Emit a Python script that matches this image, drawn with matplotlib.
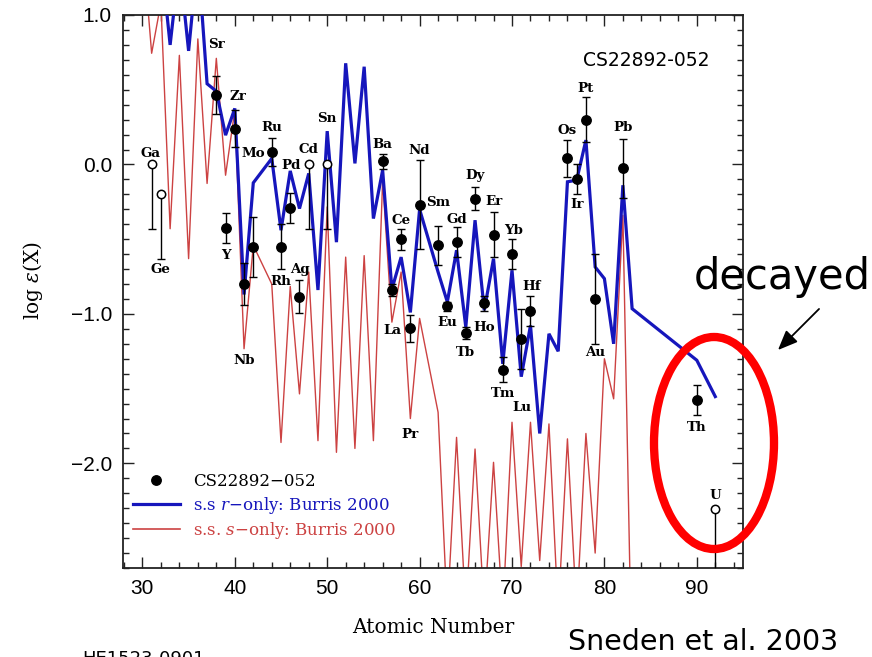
import matplotlib
matplotlib.use('Agg')
import matplotlib.pyplot as plt
from matplotlib.patches import Ellipse, FancyArrowPatch
from matplotlib.lines import Line2D
from matplotlib.ticker import MultipleLocator, FuncFormatter, FixedLocator

# ---------------- data ----------------
obs_elem = ['Sr', 'Y', 'Zr', 'Nb', 'Mo', 'Ru', 'Rh', 'Pd', 'Ag', 'Ba', 'La', 'Ce', 'Pr', 'Nd',
            'Sm', 'Eu', 'Gd', 'Tb', 'Dy', 'Ho', 'Er', 'Tm', 'Yb', 'Lu', 'Hf', 'Os', 'Ir', 'Pt',
            'Au', 'Pb', 'Th']
obs_z = [38, 39, 40, 41, 42, 44, 45, 46, 47, 56, 57, 58, 59, 60,
         62, 63, 64, 65, 66, 67, 68, 69, 70, 71, 72, 76, 77, 78,
         79, 82, 90]
obs_val = [0.465, -0.425, 0.24, -0.80, -0.55, 0.085, -0.55, -0.29, -0.885, 0.022, -0.84, -0.50,
           -1.095, -0.268, -0.54, -0.95, -0.52, -1.13, -0.228, -0.93, -0.47, -1.372, -0.597,
           -1.17, -0.98, 0.04, -0.10, 0.30, -0.90, -0.027, -1.573]
obs_err = [0.13, 0.10, 0.125, 0.14, 0.20, 0.095, 0.15, 0.10, 0.11, 0.05, 0.04, 0.07,
           0.09, 0.30, 0.13, 0.03, 0.10, 0.04, 0.08, 0.05, 0.15, 0.085, 0.10,
           0.20, 0.10, 0.125, 0.10, 0.15, 0.30, 0.20, 0.10]

lim_elem = ['Ga', 'Ge', 'Cd', 'Sn', 'U']
lim_z = [31, 32, 48, 50, 92]
lim_val = [0.0, -0.195, 0.0, 0.0, -2.306]
lim_err = [0.43, 0.435, 0.43, 0.43, 0.6]

r_z = [31, 32, 33, 34, 35, 36, 37, 38, 39, 40, 41, 42, 44, 45, 46, 47, 48, 49, 50, 51, 52, 53,
       54, 55, 56, 57, 58, 59, 60, 62, 63, 64, 65, 66, 67, 68, 69, 70, 71, 72, 73, 74, 75, 76,
       77, 78, 79, 80, 81, 82, 83, 90, 92]
r_val = [1.5, 1.4, 0.80, 1.35, 0.76, 1.4, 0.54, 0.49, 0.196, 0.375, -0.87, -0.123, 0.04, -0.44,
         -0.043, -0.295, -0.06, -0.84, 0.223, -0.52, 0.677, 0.007, 0.654, -0.362, -0.038,
         -0.835, -0.62, -0.99, -0.30, -0.72, -0.92, -0.574, -1.088, -0.373, -0.976, -0.63,
         -1.334, -0.708, -1.42, -1.077, -1.80, -1.133, -1.25, -0.116, -0.105, 0.163, -0.686,
         -0.764, -1.2, -0.139, -0.965, -1.31, -1.553]

s_z = [30, 31, 32, 33, 34, 35, 36, 37, 38, 39, 40, 41, 42, 44, 45, 46, 47, 48, 49, 50, 51, 52,
       53, 54, 55, 56, 57, 58, 59, 60, 62, 63, 64, 65, 66, 67, 68, 69, 70, 71, 72, 73, 74, 75,
       76, 77, 78, 79, 80, 81, 82, 83]
s_val = [1.5, 0.744, 1.08, -0.43, 0.73, -0.63, 0.84, -0.127, 0.71, -0.072, 0.364, -1.233,
         -0.541, -0.80, -1.86, -0.816, -1.535, -0.72, -1.848, -0.284, -1.926, -0.62, -1.90,
         -0.61, -1.848, -0.105, -1.055, -0.72, -1.70, -1.03, -1.658, -3.0, -1.826, -3.0,
         -1.904, -3.0, -1.993, -3.0, -1.725, -2.69, -1.725, -2.65, -1.736, -3.0, -1.836, -3.0,
         -1.80, -2.6, -1.30, -1.568, -0.34, -3.5]

x_ticks = [30, 40, 50, 60, 70, 80, 90]
y_ticks = [-2.0, -1.0, 0.0, 1.0]

legend_labels = ['CS22892\u2212052', 's.s $r$\u2212only: Burris 2000', 's.s. $s$\u2212only: Burris 2000']

# ---------------- layout / style ----------------
W, H = 872, 657
BLUE = '#1616bc'
RED = '#cc4242'

label_off = {
    'Sr': (0, 0.335), 'Y': (0, -0.185), 'Zr': (0.35, 0.218), 'Nb': (0, -0.51),
    'Mo': (0, 0.62), 'Ru': (0, 0.16), 'Rh': (0, -0.23), 'Pd': (0.05, 0.285),
    'Ag': (0, 0.185), 'Ba': (0, 0.114), 'La': (0, -0.27), 'Ce': (0, 0.127),
    'Pr': (0, -0.715), 'Nd': (0, 0.36), 'Sm': (0, 0.285), 'Eu': (0, -0.11),
    'Gd': (0, 0.153), 'Tb': (0, -0.126), 'Dy': (0, 0.152), 'Ho': (0, -0.158),
    'Er': (0, 0.224), 'Tm': (0, -0.158), 'Yb': (0.15, 0.157), 'Lu': (0.1, -0.455),
    'Hf': (0.1, 0.164), 'Os': (0, 0.19), 'Ir': (0, -0.166), 'Pt': (0, 0.21),
    'Au': (0, -0.356), 'Pb': (0.05, 0.272), 'Th': (0, -0.187),
    'Ga': (-0.1, 0.072), 'Ge': (0, -0.505), 'Cd': (0, 0.10), 'Sn': (0, 0.31), 'U': (0, 0.09),
}

plt.rcParams['mathtext.fontset'] = 'dejavuserif'

fig = plt.figure(figsize=(W / 100, H / 100), dpi=100)
ax = fig.add_axes([123 / W, 1 - 568 / H, 620 / W, 553 / H])

ax.plot(s_z, s_val, color=RED, lw=1.0, zorder=2)
ax.plot(r_z, r_val, color=BLUE, lw=2.3, zorder=3, solid_joinstyle='miter')

ax.errorbar(obs_z, obs_val, yerr=obs_err, fmt='o', color='black', ms=6.8,
            capsize=2.6, elinewidth=1.0, capthick=1.0, zorder=5)
ax.errorbar(lim_z, lim_val, yerr=[lim_err, [0] * len(lim_err)], fmt='none', ecolor='black',
            capsize=2.6, elinewidth=1.0, capthick=1.0, zorder=5)
ax.plot(lim_z, lim_val, 'o', mfc='white', mec='black', mew=1.1, ms=6, ls='none', zorder=6)

for name, z, v in list(zip(obs_elem, obs_z, obs_val)) + list(zip(lim_elem, lim_z, lim_val)):
    dx, dy = label_off[name]
    ax.text(z + dx, v + dy, name, ha='center', va='center', fontsize=9.6,
            fontfamily='DejaVu Serif', fontweight='bold', zorder=7)

ax.set_xlim(27.9, 95.0)
ax.set_ylim(-2.70, 1.0)
ax.xaxis.set_major_locator(FixedLocator(x_ticks))
ax.xaxis.set_minor_locator(MultipleLocator(2))
ax.yaxis.set_major_locator(FixedLocator(y_ticks))
ax.yaxis.set_minor_locator(MultipleLocator(0.1))
ax.yaxis.set_major_formatter(FuncFormatter(lambda v, p: f'{v:.1f}'.replace('-', '\u2212')))
ax.tick_params(which='both', direction='in', top=True, right=True, width=1.0, color='#222222')
ax.tick_params(which='major', length=8, labelsize=15, pad=8, labelfontfamily='Liberation Sans')
ax.tick_params(which='minor', length=4)
for sp in ax.spines.values():
    sp.set_linewidth(1.3)
    sp.set_color('#222222')

ax.set_xlabel('Atomic Number', fontfamily='DejaVu Serif', fontsize=14.5)
ax.xaxis.set_label_coords(0.5, -0.09)
ax.set_ylabel(r'log $\epsilon$(X)', fontfamily='DejaVu Serif', fontsize=14.5)
ax.yaxis.set_label_coords(-0.126, 0.52)

handles = [Line2D([], [], marker='o', color='black', ls='none', ms=6.8),
           Line2D([], [], color=BLUE, lw=2.3),
           Line2D([], [], color=RED, lw=1.2)]
leg = ax.legend(handles, legend_labels, loc='upper left', bbox_to_anchor=(0.016, 0.172),
                frameon=False, borderpad=0, borderaxespad=0, handlelength=2.8,
                handletextpad=0.8, labelspacing=0.28,
                prop={'family': 'DejaVu Serif', 'size': 12})
for t, c in zip(leg.get_texts(), ['black', BLUE, RED]):
    t.set_color(c)

# slide annotations
fig.text(583 / W, 1 - 66 / H, 'CS22892-052', fontsize=13.5, fontfamily='DejaVu Sans',
         ha='left', va='baseline')
fig.text(694 / W, 1 - 289 / H, 'decayed', fontsize=30, fontfamily='DejaVu Sans',
         ha='left', va='baseline')
fig.text(568 / W, 1 - 650 / H, 'Sneden et al. 2003', fontsize=20.5, fontfamily='DejaVu Sans',
         ha='left', va='baseline')
fig.text(82 / W, 1 - 664 / H, 'HE1523-0901', fontsize=13, fontfamily='DejaVu Sans',
         ha='left', va='baseline')

ell = Ellipse((714 / W, 1 - 443 / H), 120 / W, 212 / H, transform=fig.transFigure,
              fill=False, ec='#ff0000', lw=6)
fig.add_artist(ell)
arr = FancyArrowPatch((821 / W, 1 - 307 / H), (776 / W, 1 - 352 / H), transform=fig.transFigure,
                      arrowstyle='-|>,head_length=0.6,head_width=0.25', mutation_scale=20,
                      color='black', lw=1.3)
fig.add_artist(arr)

fig.savefig('out.png', dpi=100)
